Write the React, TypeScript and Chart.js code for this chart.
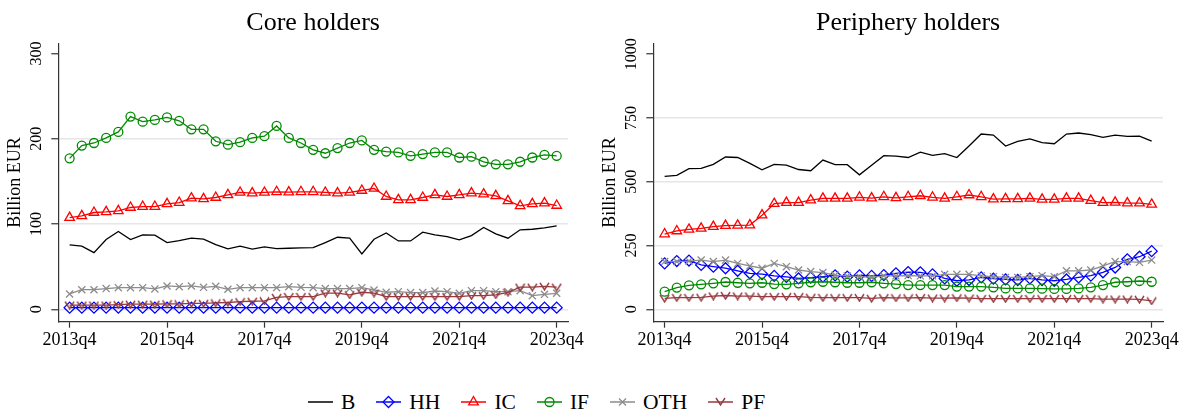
import React, { useEffect, useRef } from "react";
import { Chart, registerables } from "chart.js";

Chart.register(...registerables);

const SERIF = '"Liberation Serif", "Times New Roman", serif';

const QUARTERS = [
  "2013q4", "2014q1", "2014q2", "2014q3", "2014q4", "2015q1", "2015q2", "2015q3", "2015q4",
  "2016q1", "2016q2", "2016q3", "2016q4", "2017q1", "2017q2", "2017q3", "2017q4",
  "2018q1", "2018q2", "2018q3", "2018q4", "2019q1", "2019q2", "2019q3", "2019q4",
  "2020q1", "2020q2", "2020q3", "2020q4", "2021q1", "2021q2", "2021q3", "2021q4",
  "2022q1", "2022q2", "2022q3", "2022q4", "2023q1", "2023q2", "2023q3", "2023q4",
];
const X_TICKS = [0, 8, 16, 24, 32, 40];

const SERIES_NAMES = ["B", "HH", "IC", "IF", "OTH", "PF"];

// Core holders (billion EUR)
const CORE_B = [75.5, 74, 66.5, 81.8, 91.2, 81.8, 87.3, 86.9, 78.3, 80.6, 83.4, 82.2, 75.9, 70.8, 74, 70.5, 73.2, 71.2, 71.6, 72, 72.4, 78.3, 84.5, 83.4, 65, 82.2, 89.6, 80.2, 80.2, 90.4, 87.3, 85.3, 81.4, 86.5, 95.9, 88.5, 83.4, 93.2, 93.9, 95.5, 97.8];
const CORE_HH = [2, 2, 2, 2, 2, 2, 2, 2, 2, 2, 2, 2, 2, 2, 2, 2, 2, 2, 2, 2, 2, 2, 2, 2, 2, 2, 2, 2, 2, 2, 2, 2, 2, 2, 2, 2, 2, 2, 2, 2, 2];
const CORE_IC = [107.6, 109.6, 113.5, 114.3, 115.5, 119.4, 120.5, 120.5, 123.7, 125.2, 130.3, 129.5, 131.1, 134.2, 137, 136.2, 137, 137.8, 137.4, 137.8, 137.8, 137, 136.2, 137, 139.3, 141.7, 132.3, 128.4, 128.4, 131.1, 134.2, 132.3, 134.2, 136.2, 135, 133, 127.2, 121.3, 123.7, 124.5, 121.7];
const CORE_IF = [177, 192, 195, 201, 208, 226, 220, 222, 225, 221, 211, 211, 197, 193, 196, 201, 203, 215, 201, 195, 187, 183, 189, 195, 198, 187, 185, 184, 180, 182, 184, 184, 178, 179, 173, 170, 170, 173, 178, 181, 180];
const CORE_OTH = [18, 23, 23, 24.3, 25.4, 25.4, 25.4, 23.9, 27.4, 26.6, 27.4, 25.8, 27, 23.5, 25.4, 25.4, 25.4, 25.4, 26.6, 25.8, 25.4, 24.3, 24.3, 24.3, 25.4, 22.7, 20, 20.7, 19.6, 19.6, 21.5, 20.7, 18.8, 21.9, 21.9, 20.7, 20.7, 21.9, 16, 17.6, 18.8];
const CORE_PF = [5, 5, 5, 5, 5.5, 6, 6, 6, 6.5, 6.5, 7, 7, 7.5, 8, 9, 9.5, 10, 14, 15, 15, 15, 19, 19, 17, 20, 19, 15, 15, 15, 15, 15, 15, 15, 16, 16, 17, 20, 26, 26, 27, 26];

// Periphery holders (billion EUR)
const PER_B = [521, 525, 551, 552, 568, 597, 595, 572, 547, 568, 565, 548, 543, 585, 567, 567, 527, 565, 602, 600, 595, 616, 603, 610, 595, 640, 687, 683, 640, 658, 668, 653, 649, 687, 691, 685, 674, 683, 678, 679, 659];
const PER_HH = [180, 189, 191, 174, 167, 161, 151, 141, 138, 131, 127, 121, 124, 128, 133, 128, 133, 131, 134, 141, 146, 145, 137, 121, 112, 115, 125, 120, 117, 115, 121, 115, 112, 117, 125, 132, 145, 164, 196, 206, 228];
const PER_IC = [295, 307, 313, 317, 324, 328, 329, 330, 369, 414, 418, 418, 428, 435, 435, 435, 439, 436, 441, 437, 441, 445, 439, 435, 441, 448, 441, 432, 433, 433, 435, 431, 431, 435, 435, 426, 418, 419, 416, 416, 411];
const PER_IF = [69, 85, 94, 98, 102, 107, 104, 102, 104, 99, 98, 102, 106, 108, 106, 104, 104, 106, 102, 99, 95, 95, 95, 95, 89, 89, 89, 86, 82, 82, 82, 81, 80, 80, 82, 86, 95, 106, 108, 111, 108];
const PER_OTH = [187, 187, 189, 193, 187, 193, 180, 170, 161, 180, 167, 154, 148, 144, 134, 131, 128, 125, 131, 131, 132, 131, 131, 137, 137, 137, 131, 128, 125, 125, 128, 132, 128, 151, 151, 154, 170, 187, 187, 184, 193];
const PER_PF = [43, 46, 46, 47, 52, 54, 52, 52, 50, 50, 50, 50, 47, 46, 46, 46, 46, 43, 46, 45, 45, 46, 44, 44, 45, 44, 42, 42, 42, 42, 42, 42, 42, 42, 42, 42, 40, 40, 40, 39, 33];

const CORE_Y_TICKS = [0, 100, 200, 300];
const PER_Y_TICKS = [0, 250, 500, 750, 1000];

const COLORS = ["#000000", "#0000ff", "#ff0000", "#008a00", "#8c8c8c", "#943a40"];

function makeVMarker(color: string) {
  const c = document.createElement("canvas");
  c.width = 11;
  c.height = 9;
  const g = c.getContext("2d")!;
  g.strokeStyle = color;
  g.lineWidth = 1.4;
  g.beginPath();
  g.moveTo(1, 1);
  g.lineTo(5.5, 8);
  g.lineTo(10, 1);
  g.stroke();
  return c;
}

const yLabelPlugin = {
  id: "yLabels",
  afterDraw(chart: any) {
    const ctx = chart.ctx;
    const ys = chart.scales.y;
    const area = chart.chartArea;
    ctx.save();
    ctx.fillStyle = "#000";
    ctx.textAlign = "center";
    ctx.textBaseline = "middle";
    ctx.font = `16px ${SERIF}`;
    for (const t of ys.ticks) {
      const py = ys.getPixelForValue(t.value);
      ctx.save();
      ctx.translate(area.left - 22, py);
      ctx.rotate(-Math.PI / 2);
      ctx.fillText(String(t.value), 0, 0);
      ctx.restore();
    }
    ctx.font = `18px ${SERIF}`;
    ctx.translate(area.left - 43, (area.top + area.bottom) / 2);
    ctx.rotate(-Math.PI / 2);
    ctx.fillText("Billion EUR", 0, 0);
    ctx.restore();
  },
};

function buildDatasets(series: number[][]) {
  const vMarker = makeVMarker(COLORS[5]);
  const styles: any[] = [
    { pointStyle: "circle", pointRadius: 0 },
    { pointStyle: "rectRot", pointRadius: 5.5 },
    { pointStyle: "triangle", pointRadius: 5.5 },
    { pointStyle: "circle", pointRadius: 4.5 },
    { pointStyle: "crossRot", pointRadius: 5 },
    { pointStyle: vMarker, pointRadius: 5 },
  ];
  return series.map((vals, i) => ({
    label: SERIES_NAMES[i],
    data: vals.map((v, k) => ({ x: k, y: v })),
    borderColor: COLORS[i],
    backgroundColor: "rgba(0,0,0,0)",
    pointBorderColor: COLORS[i],
    pointBackgroundColor: "rgba(0,0,0,0)",
    pointBorderWidth: 1.3,
    borderWidth: 1.3,
    tension: 0,
    order: 5 - i,
    ...styles[i],
  }));
}

function makeOptions(title: string, yMin: number, yMax: number, yTicks: number[], rightPad: number): any {
  const topTick = yTicks[yTicks.length - 1];
  return {
    responsive: false,
    animation: false,
    devicePixelRatio: 1,
    layout: { padding: { left: 0, right: rightPad, top: 0, bottom: 0 } },
    plugins: {
      legend: { display: false },
      tooltip: { enabled: false },
      title: {
        display: true,
        text: title,
        fullSize: false,
        color: "#000",
        font: { family: SERIF, size: 26, weight: "normal", lineHeight: 1.2 },
        padding: { top: 8, bottom: 4 },
      },
    },
    scales: {
      x: {
        type: "linear",
        min: -0.93,
        max: 40.93,
        afterBuildTicks: (s: any) => {
          s.ticks = X_TICKS.map((v) => ({ value: v }));
        },
        afterFit: (s: any) => {
          s.height = 38.3;
          s.paddingLeft = 0;
          s.paddingRight = 0;
        },
        ticks: {
          autoSkip: false,
          maxRotation: 0,
          minRotation: 0,
          padding: 2,
          color: "#000",
          font: { family: SERIF, size: 18 },
          callback: (v: any) => QUARTERS[v],
        },
        grid: {
          drawOnChartArea: false,
          drawTicks: true,
          tickLength: 6,
          tickColor: "#333",
          tickWidth: 1.2,
        },
        border: { display: true, color: "#333", width: 1.2 },
      },
      y: {
        type: "linear",
        min: yMin,
        max: yMax,
        afterBuildTicks: (s: any) => {
          s.ticks = yTicks.map((v) => ({ value: v }));
        },
        afterFit: (s: any) => {
          s.width = 58.3;
          s.paddingTop = 0;
          s.paddingBottom = 0;
        },
        ticks: {
          color: "rgba(0,0,0,0)",
          font: { family: SERIF, size: 16 },
          callback: (v: any) => String(v),
        },
        grid: {
          drawOnChartArea: true,
          drawTicks: true,
          tickLength: 7,
          tickColor: "#333",
          tickWidth: 1.2,
          lineWidth: 1.5,
          color: (ctx: any) => (ctx.tick && ctx.tick.value === topTick ? "rgba(0,0,0,0)" : "#e6e6e6"),
        },
        border: { display: true, color: "#333", width: 1.2 },
      },
    },
  };
}

function LegendIcon({ idx }: { idx: number }) {
  const c = COLORS[idx];
  let marker: React.ReactNode = null;
  if (idx === 1) marker = <polygon points="12.5,2.5 18,8 12.5,13.5 7,8" fill="none" stroke={c} strokeWidth={1.3} />;
  if (idx === 2) marker = <polygon points="12.5,2.5 17.3,10.8 7.7,10.8" fill="none" stroke={c} strokeWidth={1.3} />;
  if (idx === 3) marker = <circle cx={12.5} cy={8} r={4.5} fill="none" stroke={c} strokeWidth={1.3} />;
  if (idx === 4)
    marker = (
      <path d="M9,4.5 L16,11.5 M16,4.5 L9,11.5" stroke={c} strokeWidth={1.3} fill="none" />
    );
  if (idx === 5) marker = <polyline points="8,4 12.5,11 17,4" stroke={c} strokeWidth={1.4} fill="none" />;
  return (
    <svg width={25} height={16} style={{ display: "block" }}>
      <line x1={0} y1={8} x2={25} y2={8} stroke={c} strokeWidth={1.5} />
      {marker}
    </svg>
  );
}

export default function App() {
  const leftRef = useRef<HTMLCanvasElement>(null);
  const rightRef = useRef<HTMLCanvasElement>(null);

  useEffect(() => {
    const c1 = new Chart(leftRef.current!, {
      type: "line",
      data: { datasets: buildDatasets([CORE_B, CORE_HH, CORE_IC, CORE_IF, CORE_OTH, CORE_PF]) as any },
      options: makeOptions("Core holders", -14.5, 312, CORE_Y_TICKS, 22),
      plugins: [yLabelPlugin],
    });
    const c2 = new Chart(rightRef.current!, {
      type: "line",
      data: { datasets: buildDatasets([PER_B, PER_HH, PER_IC, PER_IF, PER_OTH, PER_PF]) as any },
      options: makeOptions("Periphery holders", -48.6, 1043, PER_Y_TICKS, 18),
      plugins: [yLabelPlugin],
    });
    return () => {
      c1.destroy();
      c2.destroy();
    };
  }, []);

  return (
    <div style={{ position: "fixed", left: 0, top: 0, width: 1181, height: 412, background: "#fff", overflow: "hidden" }}>
      <canvas ref={leftRef} width={590} height={360} style={{ position: "absolute", left: 0, top: 0, width: 590, height: 360 }} />
      <canvas ref={rightRef} width={586} height={360} style={{ position: "absolute", left: 595, top: 0, width: 586, height: 360 }} />
      <div
        style={{
          position: "absolute",
          left: 308,
          top: 388.7,
          height: 26,
          display: "flex",
          alignItems: "center",
          fontFamily: SERIF,
          fontSize: 21.5,
          color: "#000",
          whiteSpace: "nowrap",
        }}
      >
        {SERIES_NAMES.map((n, i) => (
          <div key={n} style={{ display: "flex", alignItems: "center", marginRight: 21 }}>
            <LegendIcon idx={i} />
            <span style={{ marginLeft: 8, lineHeight: "26px" }}>{n}</span>
          </div>
        ))}
      </div>
    </div>
  );
}
